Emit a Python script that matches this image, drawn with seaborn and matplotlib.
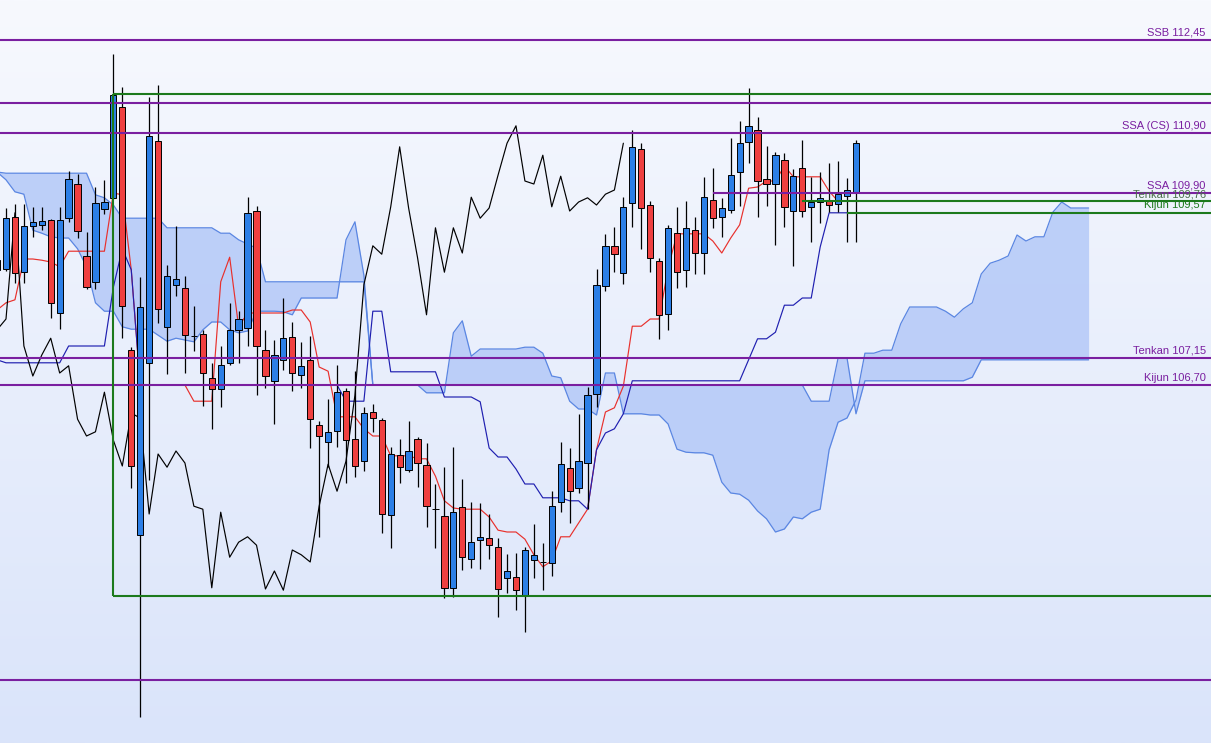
import numpy as np
import pandas as pd
import seaborn as sns
import matplotlib
matplotlib.use("Agg")
import matplotlib.pyplot as plt
from matplotlib.colors import LinearSegmentedColormap

# -------------------------------------------------
# Candles (one entry per session, oldest first)
# -------------------------------------------------
opens = [108.62, 108.63, 109.50, 108.58, 109.35, 109.37, 109.45, 107.90, 109.48, 110.05,
         108.85, 108.42, 109.63, 109.82, 111.33, 107.28, 104.20, 107.07, 110.77, 107.67,
         108.37, 108.32, 107.51, 107.55, 106.82, 106.63, 107.07, 107.62, 107.65, 109.60,
         107.28, 106.77, 107.12, 107.50, 106.87, 107.12, 106.03, 105.75, 105.93, 106.60,
         105.80, 105.43, 106.25, 106.12, 104.53, 105.53, 105.28, 105.80, 105.37, 104.63,
         104.52, 103.32, 104.67, 103.80, 104.12, 104.15, 104.00, 103.48, 103.50, 103.20,
         103.78, 103.75, 103.73, 104.75, 105.32, 104.98, 105.40, 106.55, 108.35, 109.02,
         108.57, 109.73, 110.63, 109.70, 108.77, 107.88, 109.23, 108.62, 109.28, 108.90,
         109.78, 109.50, 109.62, 110.25, 110.75, 110.95, 110.13, 110.05, 110.45, 109.60,
         110.32, 109.67, 109.75, 109.78, 109.72, 109.85, 109.90]
highs = [108.95, 109.65, 109.72, 109.72, 109.67, 109.67, 109.47, 109.67, 110.27, 110.22,
         109.25, 110.00, 110.12, 112.22, 111.67, 107.33, 108.50, 111.50, 111.70, 108.70,
         109.35, 108.52, 108.02, 107.62, 107.07, 107.35, 108.07, 107.93, 109.83, 109.68,
         107.62, 107.45, 108.15, 107.75, 107.42, 107.52, 106.10, 106.47, 107.03, 106.65,
         106.93, 106.33, 106.38, 106.15, 105.67, 105.80, 106.10, 105.83, 105.73, 105.05,
         105.33, 105.67, 105.13, 104.75, 104.73, 104.55, 104.15, 103.88, 103.90, 104.00,
         104.38, 104.07, 104.93, 105.75, 105.65, 106.22, 106.67, 108.63, 109.22, 109.33,
         109.83, 110.95, 110.73, 109.77, 108.82, 109.37, 109.67, 109.77, 109.50, 110.17,
         110.32, 109.82, 110.82, 111.10, 111.65, 111.17, 110.68, 110.58, 110.57, 110.30,
         110.78, 110.17, 110.25, 110.40, 110.43, 110.15, 110.78]
lows = [108.53, 108.60, 108.40, 108.40, 109.17, 109.28, 107.82, 107.63, 109.42, 109.15,
        108.30, 108.30, 109.55, 109.80, 107.48, 104.98, 101.17, 105.12, 107.73, 106.88,
        108.18, 106.90, 107.27, 106.35, 105.97, 106.33, 107.03, 107.07, 107.35, 106.53,
        106.65, 106.05, 106.95, 106.60, 106.65, 105.65, 104.17, 105.33, 105.67, 105.07,
        105.17, 105.27, 105.92, 104.23, 103.98, 105.07, 105.25, 105.00, 104.33, 103.98,
        103.15, 103.17, 103.62, 103.65, 103.63, 103.80, 102.83, 103.23, 102.95, 102.58,
        103.48, 103.28, 103.52, 104.58, 104.40, 104.90, 104.63, 106.33, 108.27, 108.58,
        108.38, 109.33, 108.97, 108.58, 107.47, 107.62, 108.32, 108.33, 108.55, 108.55,
        109.32, 109.17, 109.57, 109.68, 110.40, 109.50, 109.68, 109.03, 109.33, 108.68,
        109.50, 109.08, 109.40, 109.58, 109.58, 109.08, 109.08]
closes = [108.78, 109.48, 108.57, 109.35, 109.42, 109.43, 108.07, 109.45, 110.13, 109.27,
          108.33, 109.73, 109.75, 111.53, 108.02, 105.35, 108.00, 110.85, 107.97, 108.52,
          108.47, 107.53, 107.51, 106.90, 106.63, 107.03, 107.62, 107.80, 109.57, 107.35,
          106.85, 107.20, 107.48, 106.90, 107.02, 106.13, 105.85, 105.92, 106.58, 105.78,
          105.35, 106.23, 106.15, 104.55, 105.55, 105.33, 105.60, 105.40, 104.68, 104.63,
          103.32, 104.58, 103.83, 104.08, 104.17, 104.03, 103.30, 103.60, 103.28, 103.95,
          103.87, 103.75, 104.68, 105.38, 104.93, 105.43, 106.53, 108.37, 109.02, 108.88,
          109.67, 110.67, 109.65, 108.82, 107.87, 109.32, 108.58, 109.32, 108.90, 109.83,
          109.48, 109.65, 110.20, 110.73, 111.02, 110.10, 110.05, 110.53, 109.67, 110.18,
          109.60, 109.75, 109.82, 109.70, 109.88, 109.95, 110.73]

# -------------------------------------------------
# Ichimoku lines
# -------------------------------------------------
tenkan = [107.95, 108.07, 108.12, 108.80, 108.80, 108.78, 108.75, 108.67, 108.93, 108.93,
          108.93, 108.93, 108.93, 109.90, 109.87, 108.62, 106.70, 106.70, 106.70, 106.70,
          106.70, 106.70, 106.43, 106.43, 106.43, 108.42, 108.83, 107.67, 107.90, 107.90,
          107.90, 107.90, 107.90, 107.95, 107.95, 107.75, 107.00, 106.93, 106.17, 106.17,
          106.17, 105.97, 105.85, 105.85, 105.52, 105.52, 105.52, 105.47, 105.47, 105.18,
          104.77, 104.65, 104.63, 104.63, 104.63, 104.50, 104.28, 104.25, 104.25, 104.13,
          103.87, 103.67, 103.77, 104.17, 104.17, 104.40, 104.63, 105.62, 106.25, 106.32,
          106.68, 107.68, 107.68, 107.80, 107.80, 108.65, 109.22, 109.22, 109.22, 109.22,
          109.10, 108.90, 109.15, 109.37, 109.98, 110.00, 110.10, 110.10, 110.35, 110.17,
          110.17, 110.17, 110.17, 109.93, 109.76, 109.76, 109.76]
kijun = [107.12, 107.07, 107.07, 107.07, 107.07, 107.07, 107.07, 107.07, 107.35, 107.35,
         107.35, 107.35, 107.35, 108.33, 108.97, 108.62, 106.70, 106.70, 106.70, 106.70,
         106.70, 106.70, 106.70, 106.70, 106.70, 106.70, 106.70, 106.70, 106.70, 106.70,
         106.70, 106.70, 106.70, 106.70, 106.70, 106.70, 106.70, 106.70, 106.70, 106.43,
         106.43, 106.43, 107.93, 107.93, 106.92, 106.92, 106.92, 106.92, 106.92, 106.92,
         106.50, 106.50, 106.50, 106.50, 106.42, 105.65, 105.50, 105.50, 105.30, 105.05,
         105.05, 104.82, 104.82, 104.82, 104.77, 104.77, 104.63, 105.62, 105.90, 105.97,
         106.22, 106.77, 106.77, 106.77, 106.77, 106.77, 106.77, 106.77, 106.77, 106.77,
         106.77, 106.77, 106.77, 106.77, 107.12, 107.47, 107.47, 107.58, 108.03, 108.03,
         108.15, 108.15, 109.00, 109.57, 109.57, 109.57, 109.57]

# cloud, already projected 26 sessions ahead
ssa = [110.25, 110.12, 109.92, 109.88, 109.28, 109.23, 109.17, 109.15, 109.15, 108.97,
       108.67, 108.07, 107.93, 107.93, 107.67, 107.63, 107.63, 107.63, 107.53, 107.43,
       107.48, 107.45, 107.42, 107.62, 107.75, 107.75, 107.62, 107.57, 107.60, 107.93,
       107.93, 107.93, 107.92, 107.87, 108.15, 108.15, 108.15, 108.15, 108.15, 109.12,
       109.42, 108.53, 106.70, 106.70, 106.70, 106.70, 106.70, 106.70, 106.57, 106.57,
       106.57, 107.57, 107.77, 107.18, 107.30, 107.30, 107.30, 107.30, 107.30, 107.33,
       107.33, 107.23, 106.85, 106.82, 106.43, 106.30, 106.30, 106.20, 106.90, 106.90,
       106.22, 106.22, 106.22, 106.20, 106.20, 106.05, 105.63, 105.58, 105.57, 105.57,
       105.53, 105.08, 104.90, 104.88, 104.78, 104.60, 104.47, 104.25, 104.30, 104.50,
       104.47, 104.58, 104.63, 105.62, 106.08, 106.15, 106.45, 107.23, 107.23, 107.28,
       107.28, 107.72, 108.00, 108.00, 108.00, 108.00, 107.93, 107.83, 107.97, 108.07,
       108.55, 108.73, 108.78, 108.85, 109.20, 109.10, 109.17, 109.17, 109.58, 109.75,
       109.65, 109.65, 109.65]
ssb = ([110.25] + [110.23] * 10 + [109.87, 109.82, 109.70] + [109.48] * 5
       + [109.32] * 6 + [109.23, 109.23, 109.12, 109.05, 108.98] + [108.42] * 12
       + [106.70] * 49 + [106.43] * 3 + [107.15] * 2 + [106.22] + [106.77] * 12
       + [106.83] + [107.12] * 13)

# -------------------------------------------------
# Horizontal levels and their labels
# -------------------------------------------------
purple_levels = [112.45, 111.40, 110.90, 109.90, 107.15, 106.70, 101.78]
purple_starts = [None, None, None, 80, None, None, None]
box_top, box_bottom, box_left = 111.55, 103.18, 13
green_levels = [109.76, 109.57]
green_starts = [90, 95]
label_texts = ["SSB 112,45", "SSA (CS) 110,90", "SSA 109,90", "Tenkan 109,76",
               "Kijun 109,57", "Tenkan 107,15", "Kijun 106,70"]
label_prices = [112.45, 110.90, 109.90, 109.76, 109.57, 107.15, 106.70]

PURPLE = "#7a1fa0"
GREEN = "#1c7a1c"
LABEL_COLORS = [PURPLE, PURPLE, PURPLE, "#4a6e4a", GREEN, PURPLE, PURPLE]
BULL = "#2c7fe6"
BEAR = "#ef4040"
CLOUD_EDGE = "#5a86e2"
CLOUD_FILL = "#b4c9f8"

X_MIN, X_MAX = 0.33, 135.68
Y_MIN, Y_MAX = 100.733, 113.117

sns.set_style("white")
plt.rcParams["font.family"] = ["Liberation Sans", "DejaVu Sans"]

fig = plt.figure(figsize=(12.11, 7.43), dpi=100)
ax = fig.add_axes([0, 0, 1, 1])

# soft vertical gradient background
grad = np.linspace(0, 1, 256).reshape(-1, 1)
bg_cmap = LinearSegmentedColormap.from_list("bg", ["#f7f9fe", "#dae4fa"])
ax.imshow(grad, cmap=bg_cmap, aspect="auto", extent=[X_MIN, X_MAX, Y_MIN, Y_MAX], zorder=0)

# cloud
cloud_idx = np.arange(len(ssa))
ax.fill_between(cloud_idx, ssa, ssb, color=CLOUD_FILL, alpha=0.85, lw=0, zorder=1)
sns.lineplot(x=cloud_idx, y=ssa, ax=ax, color=CLOUD_EDGE, lw=0.9, zorder=1.5,
             estimator=None, sort=False)
sns.lineplot(x=cloud_idx, y=ssb, ax=ax, color=CLOUD_EDGE, lw=0.9, zorder=1.5,
             estimator=None, sort=False)

# tenkan / kijun / chikou
idx = np.arange(len(closes))
sns.lineplot(x=idx, y=tenkan, ax=ax, color="#e8302c", lw=0.85, zorder=2,
             estimator=None, sort=False)
sns.lineplot(x=idx, y=kijun, ax=ax, color="#1f1fb0", lw=0.85, zorder=2,
             estimator=None, sort=False)
chikou = closes[26:]
sns.lineplot(x=np.arange(len(chikou)), y=chikou, ax=ax, color="black", lw=0.85,
             zorder=2, estimator=None, sort=False)

# candles
df = pd.DataFrame({"o": opens, "h": highs, "l": lows, "c": closes}, index=idx)
ax.vlines(df.index, df["l"], df["h"], color="black", lw=0.9, zorder=3)
body_col = np.where(df["c"] >= df["o"], BULL, BEAR)
body_col[(df["c"] == df["o"]).values] = "black"
ax.bar(df.index, (df["c"] - df["o"]).abs(), bottom=df[["o", "c"]].min(axis=1),
       width=0.7, color=body_col, edgecolor="black", linewidth=0.7, zorder=4)

# level lines
for price, start in zip(purple_levels, purple_starts):
    if start is None:
        ax.axhline(price, color=PURPLE, lw=1.5, zorder=5)
    else:
        ax.hlines(price, start, X_MAX, color=PURPLE, lw=1.5, zorder=5)

ax.hlines([box_top, box_bottom], box_left, X_MAX, color=GREEN, lw=1.5, zorder=5)
ax.vlines(box_left, box_bottom, box_top, color=GREEN, lw=1.5, zorder=5)
for price, start in zip(green_levels, green_starts):
    ax.hlines(price, start, X_MAX, color=GREEN, lw=1.5, zorder=5)

for text, price, col in zip(label_texts, label_prices, LABEL_COLORS):
    ax.text(135.1, price + 0.04, text, color=col, fontsize=8, ha="right",
            va="bottom", zorder=6)

ax.set_xlim(X_MIN, X_MAX)
ax.set_ylim(Y_MIN, Y_MAX)
ax.axis("off")

fig.savefig("out.png", dpi=100)
plt.close(fig)
